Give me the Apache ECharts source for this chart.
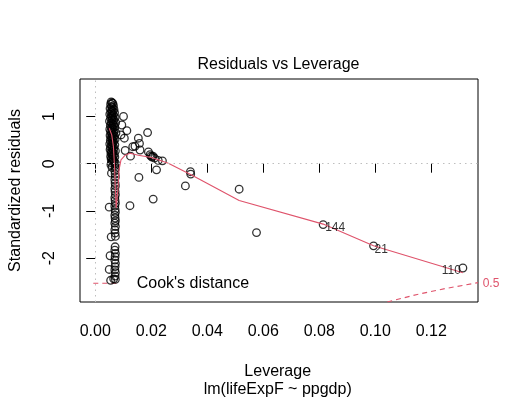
<!DOCTYPE html>
<html><head><meta charset="utf-8">
<script src="https://cdn.jsdelivr.net/npm/echarts@6/dist/echarts.min.js"></script>
<style>html,body{margin:0;padding:0;background:#fff}#c{width:518px;height:401px}</style>
</head><body><div id="c"></div><script>
// ---- data ----
const xTicks = [0, 0.02, 0.04, 0.06, 0.08, 0.10, 0.12];
const yTicks = [-2, -1, 0, 1];

// [leverage, standardized residual]
const residualPoints = [
  // dense column, positive residuals
  [0.0057,1.31],[0.0060,1.29],[0.0063,1.28],[0.0055,1.26],[0.0065,1.23],[0.0058,1.21],[0.0061,1.19],[0.0053,1.17],
  [0.0067,1.15],[0.0059,1.13],[0.0063,1.11],[0.0056,1.09],[0.0069,1.08],[0.0060,1.06],[0.0052,1.05],[0.0065,1.03],
  [0.0058,1.01],[0.0062,0.99],[0.0071,0.98],[0.0055,0.97],[0.0061,0.95],[0.0067,0.93],[0.0059,0.92],[0.0051,0.90],
  [0.0064,0.89],[0.0073,0.87],[0.0057,0.86],[0.0062,0.84],[0.0066,0.82],[0.0054,0.81],[0.0060,0.79],[0.0070,0.78],
  [0.0058,0.76],[0.0063,0.75],[0.0052,0.73],[0.0068,0.72],[0.0060,0.70],[0.0055,0.68],[0.0065,0.67],[0.0074,0.65],
  [0.0058,0.64],[0.0062,0.62],[0.0053,0.60],[0.0069,0.59],[0.0060,0.57],[0.0064,0.55],[0.0056,0.54],[0.0071,0.52],
  [0.0061,0.50],[0.0054,0.49],[0.0066,0.47],[0.0059,0.45],[0.0063,0.44],[0.0052,0.42],[0.0070,0.40],[0.0058,0.39],
  [0.0062,0.37],[0.0055,0.35],[0.0067,0.34],[0.0060,0.32],[0.0053,0.30],[0.0065,0.29],[0.0072,0.27],[0.0058,0.25],
  [0.0062,0.24],[0.0056,0.22],[0.0068,0.20],[0.0060,0.19],[0.0064,0.17],[0.0055,0.15],[0.0070,0.14],[0.0059,0.12],
  [0.0063,0.10],[0.0057,0.09],[0.0066,0.07],[0.0061,0.05],[0.0068,0.04],[0.0058,0.02],[0.0072,0.01],
  [0.0056,-0.02],[0.0060,-0.08],[0.0058,-0.20],
  // dense column, negative residuals
  [0.0071,-0.04],[0.0072,-0.10],[0.0070,-0.15],[0.0071,-0.22],[0.0072,-0.28],[0.0070,-0.34],[0.0071,-0.41],
  [0.0072,-0.47],[0.0070,-0.53],[0.0071,-0.59],[0.0072,-0.66],[0.0070,-0.72],[0.0071,-0.78],[0.0072,-0.84],
  [0.0070,-0.90],[0.0071,-0.97],[0.0072,-1.03],[0.0070,-1.09],[0.0071,-1.15],[0.0072,-1.21],[0.0070,-1.26],
  [0.0050,-0.92],[0.0072,-1.33],[0.0070,-1.40],[0.0071,-1.47],[0.0057,-1.55],[0.0072,-1.54],[0.0071,-1.76],
  [0.0070,-1.83],[0.0072,-1.90],[0.0053,-1.95],[0.0071,-1.97],[0.0070,-2.04],[0.0072,-2.11],[0.0071,-2.18],
  [0.0070,-2.25],[0.0050,-2.24],[0.0072,-2.31],[0.0071,-2.38],[0.0066,-2.44],[0.0055,-2.47],[0.0072,-2.45],
  // points off the column
  [0.0101,1.00],[0.0095,0.82],[0.0113,0.70],[0.0092,0.61],[0.0104,0.54],[0.0187,0.66],[0.0154,0.54],
  [0.0158,0.43],[0.0142,0.37],[0.0134,0.36],[0.0107,0.28],[0.0126,0.16],[0.0160,0.29],[0.0190,0.25],
  [0.0196,0.19],[0.0199,0.16],[0.0203,0.14],[0.0206,0.16],[0.0212,0.12],[0.0225,0.07],[0.0240,0.06],
  [0.0219,-0.13],[0.0156,-0.29],[0.0207,-0.75],[0.0124,-0.89],[0.0340,-0.17],[0.0341,-0.22],[0.0322,-0.47],
  [0.0514,-0.54],[0.0576,-1.46],[0.0814,-1.29],[0.0994,-1.74],[0.1313,-2.21]
];

// red smoother
const smoothCurve = [
  [0.0050,0.75],[0.0059,0.61],[0.0065,0.36],[0.0069,-0.06],[0.0072,-0.56],[0.0075,-0.94],
  [0.0081,-0.56],[0.0085,-0.13],[0.0092,0.08],[0.0107,0.18],[0.0124,0.22],[0.0154,0.18],
  [0.0201,0.13],[0.0261,0.01],[0.0344,-0.24],[0.0514,-0.78],[0.0814,-1.28],[0.0994,-1.74],[0.1313,-2.31]
];

// Cook's distance 0.5 contour (lower branch)
const cookContour = [[0.1043,-2.93],[0.115,-2.77],[0.125,-2.645],[0.1367,-2.52]];

// identified points
const idLeverage = [0.0814, 0.0994, 0.1313];
const idResidual = [-1.29, -1.74, -2.21];
const idLabels = ['144', '21', '110'];

// ---- chart ----
const FONT = "'Liberation Sans', Arial, Helvetica, sans-serif";
const RED = '#DF536B';
const idLabelStyles = [
  {position:'right', distance:2, offset:[0,3]},
  {position:'right', distance:1, offset:[0,4]},
  {position:'left', distance:2, offset:[0,3]}
];
const idData = idLeverage.map((x, i) => ({
  value: [x, idResidual[i]],
  label: Object.assign({show:true, formatter: idLabels[i], fontSize:12, color:'#000', fontFamily:FONT}, idLabelStyles[i])
}));

const chart = echarts.init(document.getElementById('c'), null, {renderer:'canvas'});
chart.setOption({
  animation:false,
  backgroundColor:'#fff',
  textStyle:{fontFamily:FONT},
  grid:{left:78, right:40, top:79, bottom:99, show:true, borderColor:'#000', borderWidth:1, backgroundColor:'transparent'},
  xAxis:{
    type:'value', min:-0.005437, max:0.1367,
    axisLine:{show:false},
    axisTick:{show:true, inside:false, length:9, customValues:xTicks, lineStyle:{color:'#000'}},
    axisLabel:{customValues:xTicks, formatter:v=>v.toFixed(2), fontSize:16, color:'#000', margin:22, fontFamily:FONT},
    splitLine:{show:false}
  },
  yAxis:{
    type:'value', min:-2.93, max:1.7945,
    axisLine:{show:false},
    axisTick:{show:true, inside:false, length:9, customValues:yTicks, lineStyle:{color:'#000'}},
    axisLabel:{customValues:yTicks, formatter:v=>String(v), rotate:90, fontSize:16, color:'#000', margin:22, fontFamily:FONT},
    splitLine:{show:false},
    name:'Standardized residuals', nameLocation:'middle', nameGap:56, nameRotate:90,
    nameTextStyle:{fontSize:16, color:'#000', fontFamily:FONT}
  },
  series:[
    {
      type:'scatter', data:residualPoints, symbol:'circle', symbolSize:7.6, silent:true,
      itemStyle:{color:'rgba(0,0,0,0)', borderColor:'#000', borderWidth:1.3},
      markLine:{silent:true, symbol:['none','none'], label:{show:false},
        lineStyle:{color:'#bebebe', type:[1.5,4], width:1},
        data:[{yAxis:0},{xAxis:0}]}
    },
    {
      type:'line', data:smoothCurve, showSymbol:false, silent:true,
      lineStyle:{color:RED, width:1.1}, z:3
    },
    {
      type:'line', data:cookContour, showSymbol:false, silent:true, clip:true,
      lineStyle:{color:RED, width:1.1, type:[5,4]}
    },
    {
      type:'scatter', data:idData, symbolSize:0, silent:true, z:4
    }
  ],
  graphic:[
    {type:'text', x:278.5, y:65, style:{text:'Residuals vs Leverage', font:'16px '+FONT, fill:'#000', textAlign:'center', textVerticalAlign:'middle'}},
    {type:'text', x:277.7, y:372, style:{text:'Leverage', font:'16px '+FONT, fill:'#000', textAlign:'center', textVerticalAlign:'middle'}},
    {type:'text', x:277.7, y:390, style:{text:'lm(lifeExpF ~ ppgdp)', font:'16px '+FONT, fill:'#000', textAlign:'center', textVerticalAlign:'middle'}},
    {type:'text', x:136.7, y:284, style:{text:"Cook's distance", font:'16px '+FONT, fill:'#000', textAlign:'left', textVerticalAlign:'middle'}},
    {type:'text', x:482.7, y:284, style:{text:'0.5', font:'12px '+FONT, fill:RED, textAlign:'left', textVerticalAlign:'middle'}},
    {type:'line', shape:{x1:93.3, y1:283.3, x2:120, y2:283.3}, style:{stroke:RED, lineWidth:1.1, lineDash:[5,4]}}
  ]
});
</script></body></html>
